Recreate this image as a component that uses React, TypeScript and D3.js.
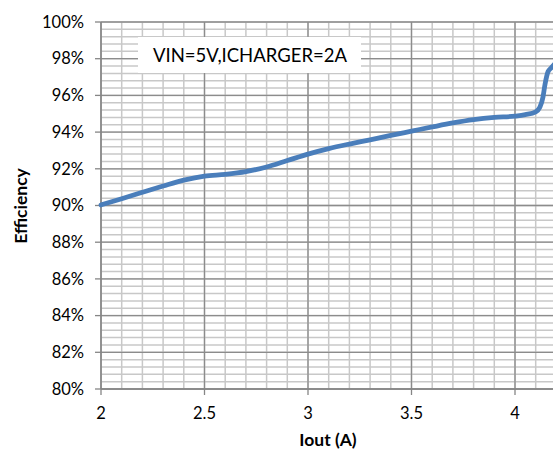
import { scaleLinear, line, curveMonotoneX, range } from 'd3'

// Efficiency vs output current
let iout = [2.0, 2.1, 2.2, 2.3, 2.4, 2.5, 2.6, 2.7, 2.8, 2.9, 3.0, 3.1, 3.2, 3.3, 3.4, 3.5, 3.6, 3.7, 3.8, 3.9, 4.0, 4.05, 4.1, 4.12, 4.135, 4.145, 4.16, 4.175, 4.19]
let efficiency = [90.03, 90.37, 90.72, 91.06, 91.38, 91.6, 91.7, 91.85, 92.1, 92.45, 92.8, 93.1, 93.35, 93.58, 93.82, 94.05, 94.28, 94.5, 94.68, 94.8, 94.87, 94.95, 95.1, 95.35, 95.9, 96.6, 97.3, 97.5, 97.7]

let xTicks = [2, 2.5, 3, 3.5, 4]
let yTicks = [80, 82, 84, 86, 88, 90, 92, 94, 96, 98, 100]
let labelText = 'VIN=5V,ICHARGER=2A'
let xTitle = 'Iout (A)'
let yTitle = 'Efficiency'

const App = () => {
    let width = 553
    let height = 453
    let left = 101
    let top = 22
    let bottom = 389
    let font = 'Lato, "Open Sans", sans-serif'

    let x = scaleLinear().domain([2, 4]).range([left, 515])
    let y = scaleLinear().domain([80, 100]).range([bottom, top])

    // minor grid every 0.1 A and 0.4 %
    let xMinor = range(2, 4.5, 0.1).map(v => +v.toFixed(2)).filter(v => x(v) < width + 2)
    let yMinor = range(80, 100.01, 0.4).map(v => +v.toFixed(2))

    let path = line<number>()
        .x((d, i) => x(iout[i]))
        .y(d => y(d))
        .curve(curveMonotoneX)(efficiency)

    return (
        <svg width={width} height={height} style={{ position: 'absolute', left: 0, top: 0, background: '#fff' }}>
            {/* minor grid */}
            {yMinor.map(v => (
                <line key={'ym' + v} x1={left} x2={width} y1={y(v)} y2={y(v)} stroke="#c8c8c8" strokeWidth={1.5} />
            ))}
            {xMinor.map(v => (
                <line key={'xm' + v} x1={x(v)} x2={x(v)} y1={top} y2={bottom} stroke="#c8c8c8" strokeWidth={1.5} />
            ))}
            {/* major grid */}
            {yTicks.map(v => (
                <line key={'yM' + v} x1={left} x2={width} y1={y(v)} y2={y(v)} stroke="#8c8c8c" strokeWidth={1.3} />
            ))}
            {xTicks.map(v => (
                <line key={'xM' + v} x1={x(v)} x2={x(v)} y1={top} y2={bottom} stroke="#8c8c8c" strokeWidth={1.3} />
            ))}

            {/* axes */}
            <line x1={left} x2={left} y1={top} y2={bottom} stroke="#868686" strokeWidth={1.3} />
            <line x1={left} x2={width} y1={bottom} y2={bottom} stroke="#868686" strokeWidth={1.3} />
            {yTicks.map(v => (
                <g key={'yt' + v}>
                    <line x1={left - 6} x2={left} y1={y(v)} y2={y(v)} stroke="#868686" strokeWidth={1.3} />
                    <text x={84} y={y(v)} dy="0.35em" textAnchor="end" fontFamily={font} fontSize={16.5} fill="#000">
                        {v}%
                    </text>
                </g>
            ))}
            {xTicks.map(v => (
                <g key={'xt' + v}>
                    <line x1={x(v)} x2={x(v)} y1={bottom} y2={bottom + 6} stroke="#868686" strokeWidth={1.3} />
                    <text x={x(v)} y={413} dy="0.35em" textAnchor="middle" fontFamily={font} fontSize={16.5} fill="#000">
                        {v}
                    </text>
                </g>
            ))}

            {/* label box */}
            <rect x={138} y={37} width={223} height={36} fill="#fff" />
            <text x={250} y={56} dy="0.35em" textAnchor="middle" fontFamily={font} fontSize={18.5} fill="#000">
                {labelText}
            </text>

            {/* curve */}
            <path d={path || ''} fill="none" stroke="#4a7ebb" strokeWidth={4.8} strokeLinejoin="round" strokeLinecap="round" />

            {/* titles */}
            <text x={328} y={440} dy="0.35em" textAnchor="middle" fontFamily={font} fontWeight="bold" fontSize={17.5} fill="#000">
                {xTitle}
            </text>
            <text transform="translate(21,206) rotate(-90)" dy="0.35em" textAnchor="middle" fontFamily={font} fontWeight="bold" fontSize={17.5} fill="#000">
                {yTitle}
            </text>
        </svg>
    )
}

export default App
